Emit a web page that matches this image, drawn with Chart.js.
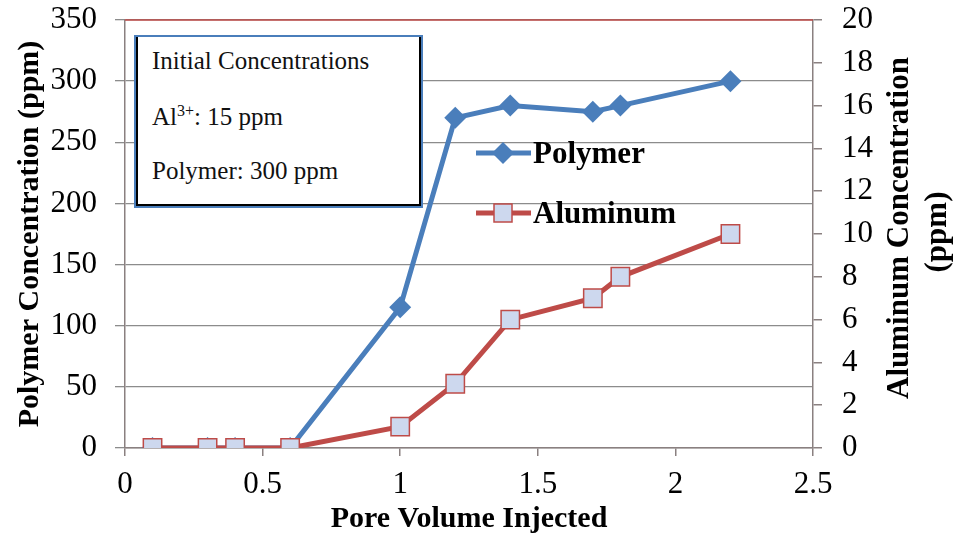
<!DOCTYPE html>
<html>
<head>
<meta charset="utf-8">
<script src="https://cdn.jsdelivr.net/npm/chart.js@4.4.0/dist/chart.umd.min.js"></script>
<style>
  html, body { margin: 0; padding: 0; background: #fff; }
  #wrap { position: relative; width: 953px; height: 537px; }
  #note {
    position: absolute; left: 134px; top: 35px; width: 289px; height: 173px;
    box-sizing: border-box; background: #fff;
    border: 2px solid #4a7ebb;
    box-shadow: inset 2px 0 0 #000, inset -2px 0 0 #000, inset 0 -2px 0 #000;
    font-family: 'Liberation Serif', serif; font-size: 25px; color: #111;
  }
  #note div { position: absolute; left: 16px; line-height: 1; white-space: nowrap; }
  #note sup { font-size: 16px; vertical-align: 9px; line-height: 0; }
</style>
</head>
<body>
<div id="wrap">
  <canvas id="myChart" width="953" height="537"></canvas>
  <div id="note">
    <div style="top:11px">Initial Concentrations</div>
    <div style="top:67px">Al<sup>3+</sup>: 15 ppm</div>
    <div style="top:121px">Polymer: 300 ppm</div>
  </div>
</div>
<script>
// pore volumes injected
const poreVolume = [0.1, 0.3, 0.4, 0.6, 1.0, 1.2, 1.4, 1.7, 1.8, 2.2];
// polymer concentration, ppm (left axis)
const polymerPpm = [0, 0, 0, 0, 115, 270, 280, 275, 280, 300];
// aluminum concentration, ppm (right axis)
const aluminumPpm = [0, 0, 0, 0, 1, 3, 6, 7, 8, 10];

const blue = '#4a7ebb';
const red = '#be4b48';
const squareFill = '#cdd8ee';
const gridGray = '#8c8c8c';
const axisGray = '#8a8080';

function points(ys) {
    return poreVolume.map((x, i) => ({ x: x, y: ys[i] }));
}

// red line on top of plot, right axis title, in-plot legend
const extras = {
    id: 'extras',
    beforeDatasetsDraw(chart) {
        const a = chart.chartArea, ctx = chart.ctx;
        ctx.save();
        ctx.strokeStyle = red;
        ctx.lineWidth = 1.5;
        ctx.beginPath();
        ctx.moveTo(a.left, a.top);
        ctx.lineTo(a.right, a.top);
        ctx.stroke();
        ctx.restore();
    },
    afterDraw(chart) {
        const a = chart.chartArea, ctx = chart.ctx;
        const cy = (a.top + a.bottom) / 2;
        ctx.save();
        // right axis title, reads bottom to top
        ctx.fillStyle = '#000';
        ctx.font = 'bold 31px "Liberation Serif"';
        ctx.textAlign = 'center';
        ctx.textBaseline = 'middle';
        ctx.translate(a.right + 87, cy - 6);
        ctx.rotate(-Math.PI / 2);
        ctx.fillText('Aluminum Concentration', 0, 0);
        ctx.restore();
        ctx.save();
        ctx.font = 'bold 31px "Liberation Serif"';
        ctx.textAlign = 'center';
        ctx.textBaseline = 'middle';
        ctx.translate(a.right + 125, cy - 2);
        ctx.rotate(-Math.PI / 2);
        ctx.fillText('(ppm)', 0, 0);
        ctx.restore();

        // legend
        ctx.save();
        ctx.lineWidth = 5;
        ctx.strokeStyle = blue;
        ctx.beginPath(); ctx.moveTo(476, 153); ctx.lineTo(531, 153); ctx.stroke();
        ctx.fillStyle = blue;
        ctx.beginPath();
        ctx.moveTo(503, 142); ctx.lineTo(514, 153); ctx.lineTo(503, 164); ctx.lineTo(492, 153);
        ctx.closePath(); ctx.fill();
        ctx.strokeStyle = red;
        ctx.beginPath(); ctx.moveTo(476, 213); ctx.lineTo(531, 213); ctx.stroke();
        ctx.fillStyle = squareFill;
        ctx.fillRect(494, 204, 18, 18);
        ctx.lineWidth = 1.5;
        ctx.strokeRect(494, 204, 18, 18);
        ctx.fillStyle = '#000';
        ctx.font = 'bold 31px "Liberation Serif"';
        ctx.textAlign = 'left';
        ctx.textBaseline = 'middle';
        ctx.fillText('Polymer', 533, 155);
        ctx.fillText('Aluminum', 533, 215);
        ctx.restore();
    }
};

const tickFont = { size: 31, family: 'Liberation Serif' };
const titleFont = { size: 30, weight: 'bold', family: 'Liberation Serif' };

const ctx = document.getElementById('myChart').getContext('2d');
const myChart = new Chart(ctx, {
    type: 'line',
    data: {
        datasets: [{
            label: 'Aluminum',
            data: points(aluminumPpm),
            yAxisID: 'y2',
            order: 0,
            borderColor: red,
            borderWidth: 5,
            pointStyle: 'rect',
            pointRadius: 13,
            pointBackgroundColor: squareFill,
            pointBorderColor: red,
            pointBorderWidth: 1.5,
            tension: 0
        }, {
            label: 'Polymer',
            data: points(polymerPpm),
            yAxisID: 'y',
            order: 1,
            borderColor: blue,
            borderWidth: 5,
            pointStyle: 'rectRot',
            pointRadius: 11,
            pointBackgroundColor: blue,
            pointBorderColor: blue,
            pointBorderWidth: 0,
            tension: 0
        }]
    },
    options: {
        responsive: false,
        animation: false,
        devicePixelRatio: 1,
        layout: { padding: { top: 20, left: 0, right: 0, bottom: 0 } },
        plugins: { legend: { display: false }, tooltip: { enabled: false } },
        scales: {
            x: {
                type: 'linear',
                min: 0, max: 2.5,
                ticks: { stepSize: 0.5, color: '#000', padding: 10, font: tickFont,
                         callback: v => String(v) },
                grid: { drawOnChartArea: false, tickLength: 8, color: axisGray, lineWidth: 1.5 },
                border: { color: axisGray, width: 1.5 },
                title: {
                    display: true, text: 'Pore Volume Injected', color: '#000',
                    padding: { top: 0, bottom: 0 }, font: titleFont
                },
                afterFit(scale) { scale.height = 89; }
            },
            y: {
                position: 'left',
                min: 0, max: 350,
                ticks: { stepSize: 50, color: '#000', padding: 18, font: tickFont },
                grid: { color: gridGray, lineWidth: 1.3, tickLength: 10 },
                border: { color: axisGray, width: 1.5 },
                title: {
                    display: true, text: 'Polymer Concentration (ppm)', color: '#000',
                    padding: { top: 12, bottom: 0 }, font: titleFont
                },
                afterFit(scale) {
                    scale.width = 125;
                    scale.paddingTop = 0;
                    scale.paddingBottom = 0;
                }
            },
            y2: {
                position: 'right',
                min: 0, max: 20,
                ticks: { stepSize: 2, color: '#000', padding: 20, font: tickFont },
                grid: { drawOnChartArea: false, tickLength: 9, color: axisGray, lineWidth: 1.5 },
                border: { color: axisGray, width: 1.5 },
                afterFit(scale) {
                    scale.width = 140;
                    scale.paddingTop = 0;
                    scale.paddingBottom = 0;
                }
            }
        }
    },
    plugins: [extras]
});
</script>
</body>
</html>
